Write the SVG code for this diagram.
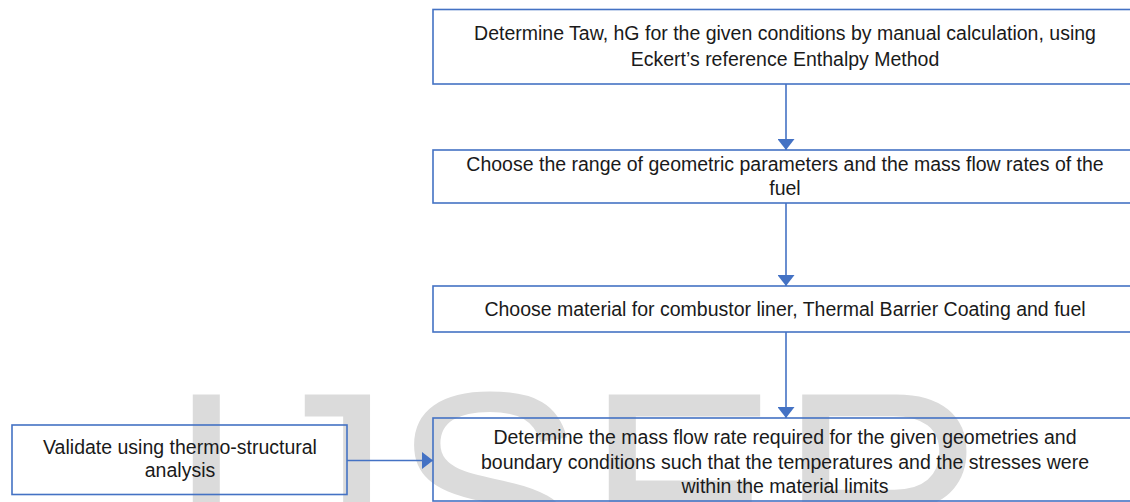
<svg xmlns="http://www.w3.org/2000/svg" width="1130" height="502" viewBox="0 0 1130 502">
<style>
.box{fill:none;stroke:#4472c4;stroke-width:1.6}
.lbl{font-family:"Liberation Sans",Arial,sans-serif;font-size:19.5px;fill:#1a1a1a;text-anchor:middle}
.wm{font-family:"Liberation Sans",Arial,sans-serif;font-size:290px;fill:#dbdbdb}
.con{stroke:#4472c4;stroke-width:1.6;fill:none}
</style>
<defs>
<marker id="ah" viewBox="0 0 11 17" refX="11" refY="8.5" markerWidth="11" markerHeight="17" markerUnits="userSpaceOnUse" orient="auto">
<path d="M0,0 L11,8.5 L0,17 Z" fill="#4472c4"/>
</marker>
</defs>
<rect width="1130" height="502" fill="#ffffff"/>
<text class="wm" x="166" y="594">IJSER</text>
<g id="connectors">
<line class="con" x1="786" y1="84" x2="786" y2="150" marker-end="url(#ah)"/>
<line class="con" x1="786" y1="203" x2="786" y2="286" marker-end="url(#ah)"/>
<line class="con" x1="786" y1="332" x2="786" y2="418" marker-end="url(#ah)"/>
<line class="con" x1="347" y1="460.5" x2="433" y2="460.5" marker-end="url(#ah)"/>
</g>
<g id="n1">
<rect class="box" x="433" y="9.5" width="710" height="74.5"/>
<text class="lbl" x="785" y="40">Determine Taw, hG for the given conditions by manual calculation, using</text>
<text class="lbl" x="785" y="66">Eckert’s reference Enthalpy Method</text>
</g>
<g id="n2">
<rect class="box" x="433" y="150" width="710" height="53"/>
<text class="lbl" x="785" y="171">Choose the range of  geometric parameters and the mass flow rates of the</text>
<text class="lbl" x="785" y="195">fuel</text>
</g>
<g id="n3">
<rect class="box" x="433" y="286" width="710" height="46"/>
<text class="lbl" x="785" y="316">Choose material for combustor liner, Thermal Barrier Coating and fuel</text>
</g>
<g id="n4">
<rect class="box" x="433" y="418" width="710" height="83"/>
<text class="lbl" x="785" y="444">Determine the mass flow rate required for the given geometries and</text>
<text class="lbl" x="785" y="469">boundary conditions such that the temperatures and the stresses were</text>
<text class="lbl" x="785" y="493">within the material limits</text>
</g>
<g id="n5">
<rect class="box" x="12" y="425" width="335" height="69.5"/>
<text class="lbl" x="180" y="454">Validate using thermo-structural</text>
<text class="lbl" x="180" y="477">analysis</text>
</g>
</svg>
